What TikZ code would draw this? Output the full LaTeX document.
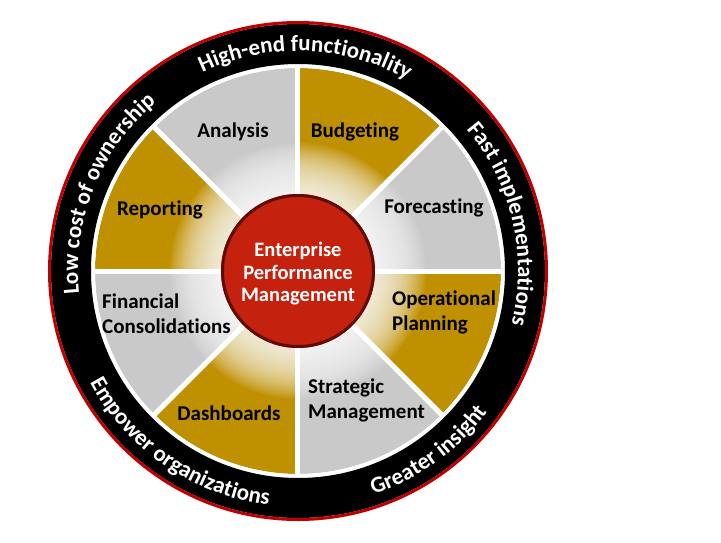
\documentclass[tikz,border=0pt]{standalone}
\usepackage{fontspec}
\setmainfont{Carlito}[Ligatures=NoCommon]
\usetikzlibrary{decorations.text}

\definecolor{epmgold}{RGB}{191,144,0}
\definecolor{epmgrey}{RGB}{201,201,201}
\definecolor{epmred}{RGB}{192,0,0}
\definecolor{epmcore}{RGB}{196,34,14}
\definecolor{epmrim}{RGB}{96,12,4}

\newcommand{\ringfont}{\fontsize{23}{25}\selectfont\bfseries\color{white}}

\begin{document}
\begin{tikzpicture}[x=1pt,y=1pt,
    seclabel/.style={font=\fontsize{21}{25}\selectfont\bfseries, inner sep=0pt},
    seclines/.style={seclabel, align=left, anchor=west},
    ringtext/.style={decorate, decoration={text along path, text align=center, text={|\ringfont|#1}}}]
    \useasboundingbox (-298,-271) rectangle (423,271);
    \fill[white] (-298,-271) rectangle (423,271);
    \coordinate (c) at (0,0);

    % sectors
    \foreach \a/\col in {0/epmgrey,45/epmgold,90/epmgrey,135/epmgold,180/epmgrey,225/epmgold,270/epmgrey,315/epmgold}
        \fill[\col] (c) -- (\a:203pt) arc[start angle=\a, end angle=\a+45, radius=203pt] -- cycle;
    % glow round the core
    \foreach \r in {78,80,...,128}
        \fill[white, opacity=0.07] (c) circle[radius=\r*1pt];
    \foreach \a in {0,45,...,315}
        \draw[white, line width=5pt] (c) -- (\a:204pt);

    % outer rings
    \draw[white, line width=4pt] (c) circle[radius=205pt];
    \draw[black, line width=40pt] (c) circle[radius=227pt];
    \draw[epmred, line width=3pt] (c) circle[radius=248.5pt];

    % core
    \fill[epmcore] (c) circle[radius=77pt];
    \draw[epmrim, line width=3pt] (c) circle[radius=75.5pt];
    \node[font=\fontsize{20.5}{22.5}\selectfont\bfseries, text=white, align=center] (epm) at (0,-3) {Enterprise\\Performance\\Management};

    \node[seclabel] (analysis) at (-65,139) {Analysis};
    \node[seclabel] (budgeting) at (57,139) {Budgeting};
    \node[seclabel] (reporting) at (-138,61) {Reporting};
    \node[seclabel] (forecasting) at (136,63) {Forecasting};
    \node[seclines] (consolidations) at (-196,-43) {Financial\\Consolidations};
    \node[seclines] (planning) at (94,-41) {Operational\\Planning};
    \node[seclabel] (dashboards) at (-69,-142) {Dashboards};
    \node[seclines] (strategic) at (10,-129) {Strategic\\Management};

    % ring texts
    \path[ringtext={High-end functionality}] (168:220pt) arc[start angle=168, end angle=8, radius=220pt];
    \path[ringtext={Fast implementations}] (93:220pt) arc[start angle=93, end angle=-67, radius=220pt];
    \path[ringtext={Low cost of ownership}] (238:220pt) arc[start angle=238, end angle=78, radius=220pt];
    \path[ringtext={Greater insight}] (-134:236pt) arc[start angle=-134, end angle=26, radius=236pt];
    \path[ringtext={Empower organizations}] (-204.5:236pt) arc[start angle=-204.5, end angle=-44.5, radius=236pt];
\end{tikzpicture}
\end{document}
